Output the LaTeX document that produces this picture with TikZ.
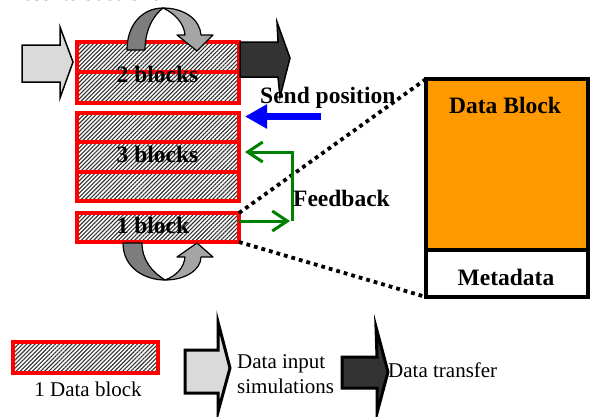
\documentclass[tikz,border=0pt]{standalone}
\usepackage{fontspec}
\setmainfont{Liberation Serif}
\usetikzlibrary{arrows.meta,patterns.meta,calc}
\definecolor{orangebox}{RGB}{255,153,0}
\definecolor{lightarrow}{RGB}{218,218,218}
\definecolor{darkarrow}{RGB}{51,51,51}
\definecolor{turndark}{RGB}{125,125,125}
\definecolor{turnlight}{RGB}{165,165,165}
\definecolor{fbgreen}{RGB}{0,128,0}
\begin{document}
\begin{tikzpicture}[x=1pt,y=-1pt,
  blk/.style={draw=red, line width=3.2pt, outer sep=0pt, inner sep=0pt,
    pattern={Lines[angle=45,distance=2.9pt,line width=1.1pt]}, pattern color=black!80,
    minimum width=162pt},
  lbl/.style={font=\fontsize{23.5}{26}\selectfont\bfseries, inner sep=0pt},
  txt/.style={font=\fontsize{21}{24}\selectfont, inner sep=0pt},
  boxed/.style={draw=black, line width=3.5pt, outer sep=0pt, inner sep=0pt, minimum width=162pt},
  dotline/.style={line width=3.8pt, dash pattern=on 3.8pt off 4pt},
  sendarrow/.style={draw=blue, line width=7pt, -{Triangle[length=22pt,width=23pt]}},
  fbline/.style={draw=fbgreen, line width=3pt},
  fbtip/.style={-{Straight Barb[length=15pt,width=20pt,line width=3pt]}},
  bigarrow/.style={draw=black, line width=1.5pt, line join=miter},
  legarrow/.style={draw=black, line width=3pt, line join=miter},
  turn/.style={draw=black, line width=1.2pt, line join=round}
]
\useasboundingbox (0,0) rectangle (594,416);

% cut-off text at top (only its lowest part lies inside the picture)
\node[lbl, anchor=base west] (cut) at (12,0.8) {results section.};

% block stacks
\node[blk, minimum height=30pt] (t1) at (158,57) {};
\node[blk, minimum height=31pt] (t2) at (158,87.5) {};
\node[blk, minimum height=29pt] (m1) at (158,127.5) {};
\node[blk, minimum height=30pt] (m2) at (158,157) {};
\node[blk, minimum height=29pt] (m3) at (158,186.5) {};
\node[blk, minimum height=29pt] (b) at (158,227.5) {};

% input and output arrows
\draw[bigarrow, fill=lightarrow] (22,45) -- (60,45) -- (60,27) -- (73,62) -- (60,98) -- (60,82) -- (22,82) -- cycle;
\draw[bigarrow, fill=darkarrow] (240,42) -- (278,42) -- (277,22) -- (290,58) -- (280,97) -- (278,77) -- (240,77) -- cycle;

% top U-turn arrow
\draw[turn, fill=turnlight] (163,8) .. controls (185,8) and (200,20) .. (201,35) -- (213,35) -- (197,51) -- (177,35) -- (185,35) .. controls (184,24) and (176,14) .. (163,8) -- cycle;
\draw[turn, fill=turndark] (127,50) .. controls (127,24) and (143,8) .. (163,8) .. controls (155,14) and (145,28) .. (145,50) -- cycle;

% bottom U-turn arrow
\draw[turn, fill=turndark] (123,243) .. controls (123,268) and (145,280) .. (165,280) .. controls (152,272) and (142,260) .. (142,243) -- cycle;
\draw[turn, fill=turnlight] (165,280) .. controls (185,280) and (201,270) .. (201,257) -- (213,257) -- (197,243) -- (177,257) -- (185,257) .. controls (184,268) and (176,276) .. (165,280) -- cycle;

% block labels
\node[lbl, anchor=base] (l2) at (157.5,82) {2 blocks};
\node[lbl, anchor=base] (l3) at (157.5,162) {3 blocks};
\node[lbl, anchor=base] (l1) at (153,233) {1 block};

% data block detail
\node[boxed, fill=orangebox, minimum height=171pt] (db) at (507,164.5) {};
\node[boxed, fill=white, minimum height=47pt] (md) at (507,273.5) {};
\node[lbl, anchor=base] (dbl) at (505,113) {Data Block};
\node[lbl, anchor=base] (mdl) at (506,285) {Metadata};

% dotted zoom lines
\draw[dotline] (b.north east) -- (db.north west);
\draw[dotline] (b.south east) -- (md.south west);

% send position
\node[lbl, anchor=base west] (sp) at (260,103) {Send position};
\coordinate (spstart) at (321,116.5);
\draw[sendarrow, shorten >=6pt] (spstart) -- (m1.east |- spstart);

% feedback
\coordinate (fblow) at (290,221);
\coordinate (fbr) at (292,221);
\coordinate (fbtop) at (292,152);
\draw[fbline, fbtip] (b.east |- fblow) -- (fblow);
\draw[fbline, fbtip, shorten >=6pt] (fbr) -- (fbtop) -- (m2.east |- fbtop);
\node[lbl, anchor=base west] (fbl) at (293,206) {Feedback};

% legend
\node[blk, minimum width=145pt, minimum height=31pt] (lg) at (85.5,357.5) {};
\node[txt, anchor=base] (lgl) at (88,396) {1 Data block};
\draw[legarrow, fill=lightarrow] (185,350) -- (218,350) -- (218,322) -- (230,368) -- (218,412) -- (218,393) -- (185,393) -- cycle;
\node[txt, anchor=base west] (di1) at (237,368) {Data input};
\node[txt, anchor=base west] (di2) at (237,393) {simulations};
\draw[legarrow, fill=darkarrow] (342,357) -- (377,357) -- (376,327) -- (388,372) -- (377,413) -- (377,388) -- (342,388) -- cycle;
\node[txt, anchor=base west] (dt) at (388,377) {Data transfer};
\end{tikzpicture}
\end{document}
